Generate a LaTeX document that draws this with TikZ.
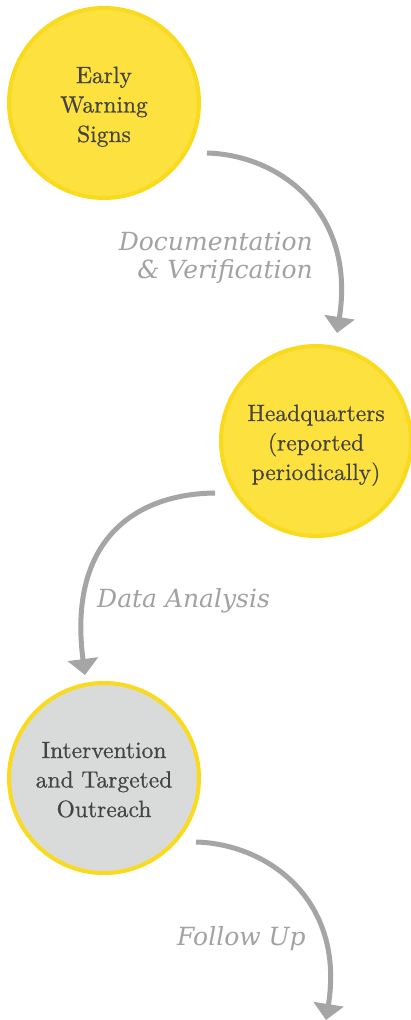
\documentclass[tikz,border=0pt]{standalone}
\usepackage{fontspec}
\newfontfamily\lblfont{DejaVu Serif}
\newfontfamily\stagefont{lmroman10-regular.otf}[FakeBold=0.7]
\usetikzlibrary{arrows.meta}
\definecolor{cyellow}{HTML}{FDE23F}
\definecolor{cborder}{HTML}{F9DA1C}
\definecolor{cgrey}{HTML}{D9DADA}
\definecolor{ctext}{HTML}{444344}
\definecolor{carrow}{HTML}{A6A5A6}
\definecolor{clabel}{HTML}{A3A2A3}
\newcommand{\stagetext}[3]{\begin{tabular}{@{}c@{}}\rule{0pt}{27.85pt}#1\\#2\\#3\end{tabular}}
\begin{document}
\begin{tikzpicture}[x=1pt,y=-1pt,
  stage/.style={circle, draw=cborder, line width=4pt, minimum size=190pt, inner sep=0pt,
    text=ctext, font=\stagefont\fontsize{23.5}{29.5}\selectfont},
  flow/.style={draw=carrow, line width=5pt, -{Triangle[length=16pt,width=30pt]}},
  flowlabel/.style={text=clabel, font=\lblfont\itshape\fontsize{25}{28}\selectfont, inner sep=0pt}]
\useasboundingbox (0,0) rectangle (410,1020);
\fill[white] (0,0) rectangle (410,1020);

\node[stage, fill=cyellow] (s1) at (104,103) {\stagetext{Early}{Warning}{Signs}};
\node[stage, fill=cyellow] (s2) at (316,441) {\stagetext{Headquarters}{(reported}{periodically)}};
\node[stage, fill=cgrey] (s3) at (104,778) {\stagetext{Intervention}{and Targeted}{Outreach}};

\coordinate (a1s) at (207,153);
\coordinate (a1e) at (337,333);
\coordinate (a2s) at (215,493);
\coordinate (a2e) at (85,675);
\coordinate (a3s) at (196,842);
\coordinate (a3e) at (326,1020);

\draw[flow] (a1s) .. controls (280,155) and (356,212) .. (a1e);
\draw[flow] (a2s) .. controls (130,494) and (68,545) .. (a2e);
\draw[flow] (a3s) .. controls (269,844) and (345,901) .. (a3e);

\node[flowlabel, anchor=base east] (l1) at (313,250)
  {\begin{tabular}[t]{@{}r@{}}Documentation\\\& Verification\end{tabular}};
\node[flowlabel, anchor=base west] (l2) at (97,607) {Data Analysis};
\node[flowlabel, anchor=base west] (l3) at (177,945) {Follow Up};
\end{tikzpicture}
\end{document}
